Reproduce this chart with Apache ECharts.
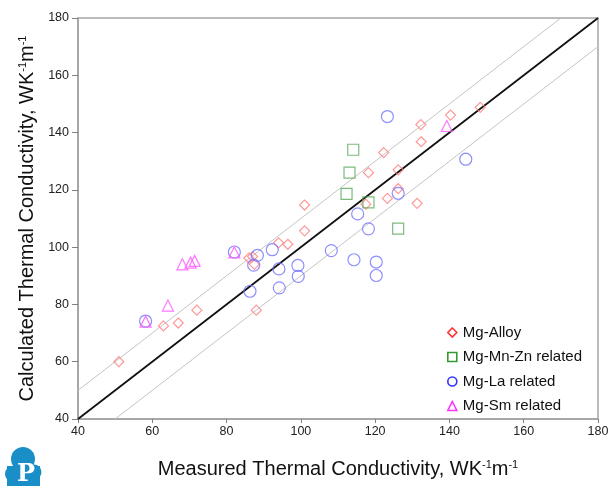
<!DOCTYPE html>
<html><head><meta charset="utf-8">
<script src="https://cdn.jsdelivr.net/npm/echarts@6/dist/echarts.min.js"></script>
<style>html,body{margin:0;padding:0;background:#fff}#c{width:613px;height:486px}</style>
</head><body><div id="c"></div>
<script>
// Measured (x) vs Calculated (y) thermal conductivity, W/(K·m)
const seriesNames = ['Mg-Alloy', 'Mg-Mn-Zn related', 'Mg-La related', 'Mg-Sm related'];
const alloyData = [[51,60],[63,72.5],[67,73.5],[72,78],[88,78],[86,96.2],[87,96.7],[87.5,94],[94,101.5],[96.5,101],[101,105.7],[101,114.7],[117.5,115],[118.2,126],[122.3,133],[123.3,117],[126.2,127],[126.2,120.4],[131.3,115.3],[132.3,142.8],[132.4,136.8],[140.3,146.1],[148.3,148.8]];
const mnZnData = [[114.1,134],[113.1,126],[112.3,118.6],[118.2,115.6],[126.2,106.5]];
const laData = [[58.2,74.2],[82.1,98.3],[88.3,97.1],[87.3,93.7],[86.3,84.6],[92.3,99.1],[94.1,92.4],[94.2,85.8],[99.2,93.6],[99.3,89.8],[108.2,98.8],[114.3,95.6],[115.3,111.6],[118.2,106.4],[120.3,94.8],[120.3,90.1],[123.3,145.6],[126.2,118.8],[144.4,130.7]];
const smData = [[58.2,74],[64.2,79.6],[68.1,94],[70.3,94.6],[71.4,95.2],[82.1,98.2],[139.3,142.3]];
const idealLine = [[40,40],[180,180]];
const upperLine = [[40,50],[170,180]];
const lowerLine = [[50,40],[180,170]];
const axisMin = 40, axisMax = 180, axisStep = 20;

const FONT = 'Liberation Sans, Arial, sans-serif';
const chart = echarts.init(document.getElementById('c'), null, {renderer: 'canvas'});
const richName = {
  base: {fontSize: 20, color: '#111', fontFamily: FONT},
  sup: {fontSize: 11, color: '#111', fontFamily: FONT, verticalAlign: 'top', padding: [0,0,8,0]}
};
function lineSeries(data, color, width) {
  return {type: 'line', data: data, symbol: 'none', silent: true, z: 1,
    lineStyle: {color: color, width: width}, animation: false};
}
function scatterSeries(name, data, symbol, size, color) {
  return {type: 'scatter', name: name, data: data, symbol: symbol, symbolSize: size, z: 3,
    itemStyle: {color: 'rgba(0,0,0,0)', borderColor: color, borderWidth: 1.2}, animation: false};
}
const option = {
  backgroundColor: '#fff',
  textStyle: {fontFamily: FONT},
  animation: false,
  grid: {left: 78, right: 15, top: 18, bottom: 67, show: true, borderColor: '#a6a6a6', borderWidth: 1.5},
  xAxis: {
    type: 'value', min: axisMin, max: axisMax, interval: axisStep,
    axisLine: {lineStyle: {color: '#a0a0a0', width: 1.5}},
    axisTick: {show: true, length: 4, lineStyle: {color: '#808080'}},
    axisLabel: {color: '#222', fontSize: 12.5, margin: 6},
    splitLine: {show: false},
    name: '{base|Measured Thermal Conductivity, WK}{sup|-1}{base|m}{sup|-1}',
    nameLocation: 'middle', nameGap: 40,
    nameTextStyle: {rich: richName}
  },
  yAxis: {
    type: 'value', min: axisMin, max: axisMax, interval: axisStep,
    axisLine: {show: true, lineStyle: {color: '#a0a0a0', width: 1.5}},
    axisTick: {show: true, length: 6, lineStyle: {color: '#808080'}},
    axisLabel: {color: '#222', fontSize: 12.5, margin: 9},
    splitLine: {show: false},
    name: '{base|Calculated Thermal Conductivity, WK}{sup|-1}{base|m}{sup|-1}',
    nameLocation: 'middle', nameGap: 40,
    nameTextStyle: {rich: richName}
  },
  legend: {
    orient: 'vertical', left: 442, top: 320, itemWidth: 9, itemHeight: 9, itemGap: 9.5,
    textStyle: {fontSize: 15, color: '#111', padding: [0,0,0,1]},
    data: [
      {name: seriesNames[0], icon: 'diamond', itemStyle: {color: 'rgba(0,0,0,0)', borderColor: '#ff0000', borderWidth: 1.6}},
      {name: seriesNames[1], icon: 'rect', itemStyle: {color: 'rgba(0,0,0,0)', borderColor: '#008000', borderWidth: 1.6}},
      {name: seriesNames[2], icon: 'circle', itemStyle: {color: 'rgba(0,0,0,0)', borderColor: '#0000ff', borderWidth: 1.6}},
      {name: seriesNames[3], icon: 'triangle', itemStyle: {color: 'rgba(0,0,0,0)', borderColor: '#ff00ff', borderWidth: 1.6}}
    ]
  },
  series: [
    lineSeries(upperLine, '#c4c4c4', 1),
    lineSeries(lowerLine, '#c4c4c4', 1),
    lineSeries(idealLine, '#111', 1.8),
    scatterSeries(seriesNames[0], alloyData, 'diamond', 10, '#ff8080'),
    scatterSeries(seriesNames[1], mnZnData, 'rect', 11, '#5aaa5a'),
    scatterSeries(seriesNames[2], laData, 'circle', 12, '#7373ff'),
    scatterSeries(seriesNames[3], smData, 'triangle', 11, '#ff55ff')
  ],
  graphic: [
    {type: 'circle', silent: true, shape: {cx: 23, cy: 459, r: 12}, style: {fill: '#1a8fc7'}},
    {type: 'circle', silent: true, shape: {cx: 13, cy: 474, r: 8}, style: {fill: '#1a8fc7'}},
    {type: 'circle', silent: true, shape: {cx: 34, cy: 472, r: 7.5}, style: {fill: '#1a8fc7'}},
    {type: 'rect', silent: true, shape: {x: 7, y: 466, width: 33, height: 20}, style: {fill: '#1a8fc7'}},
    {type: 'text', silent: true, x: 26, y: 475, style: {text: 'P', fill: '#fff', font: 'bold 24px "DejaVu Serif", "Liberation Serif", serif', align: 'center', verticalAlign: 'middle'}}
  ]
};
chart.setOption(option);
</script>
</body></html>
